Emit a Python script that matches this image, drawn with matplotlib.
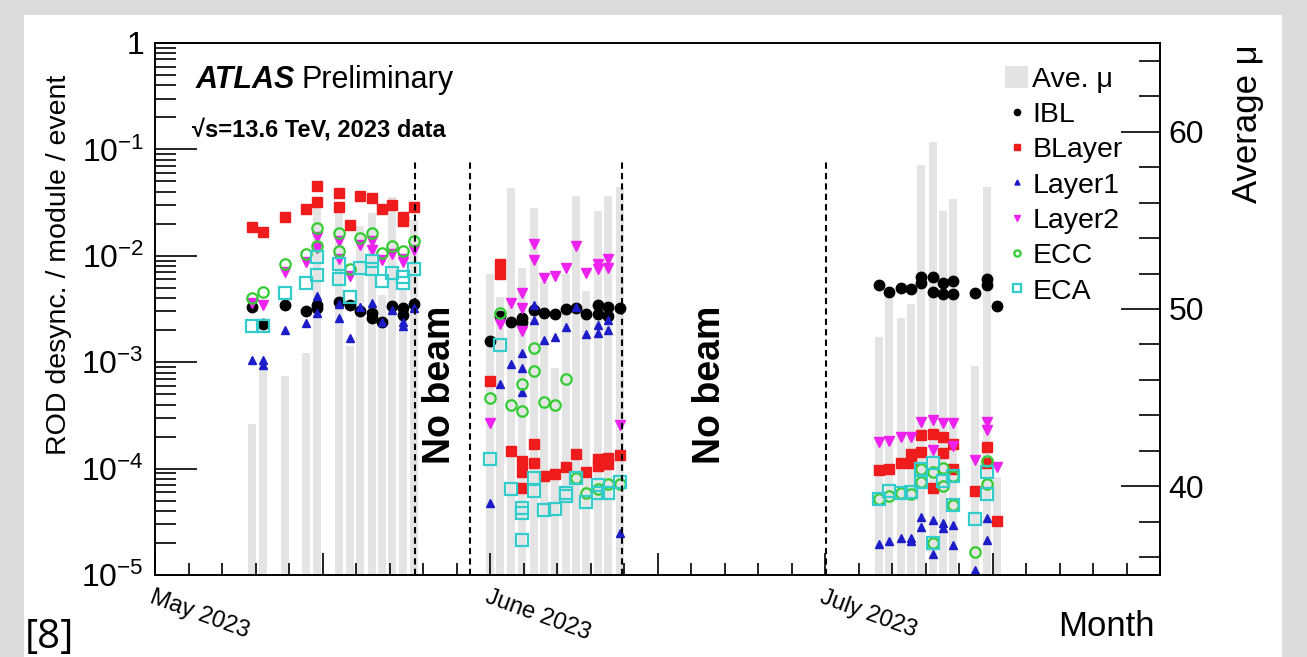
import numpy as np
import matplotlib.pyplot as plt
from matplotlib.patches import Rectangle
from matplotlib.ticker import MultipleLocator, LogLocator, NullFormatter

plt.rcParams['font.family'] = ['Liberation Sans', 'DejaVu Sans']
plt.rcParams['mathtext.fontset'] = 'custom'
plt.rcParams['mathtext.rm'] = 'Liberation Sans'
plt.rcParams['mathtext.it'] = 'Liberation Sans:italic'
plt.rcParams['mathtext.bf'] = 'Liberation Sans:bold'

# x = days after the "May 2023" tick
mu_day = [8.7, 9.7, 11.6, 13.5, 14.5, 16.5, 17.5, 18.4, 19.4, 20.3, 21.2, 22.2, 23.2,
          30.0, 30.9, 31.9, 32.9, 33.9, 34.8, 35.8, 36.8, 37.7, 38.6, 39.7, 40.6, 41.6,
          64.8, 65.7, 66.8, 67.7, 68.6, 69.7, 70.6, 71.5, 73.4, 74.5, 75.4]
mu_val = [43.5, 46.8, 46.2, 47.5, 55.7, 55.6, 47.9, 54.7, 55.4, 50.8, 56.3, 51.2, 55.0,
          52.0, 50.7, 56.8, 52.3, 55.7, 51.5, 46.7, 52.0, 56.4, 51.0, 55.5, 56.4, 56.9,
          48.4, 50.8, 49.5, 50.3, 58.1, 59.4, 55.5, 56.2, 46.8, 56.9, 40.5]

ibl = [(8.7, 0.00328), (9.7, 0.0023), (11.6, 0.00345), (13.5, 0.00303), (14.5, 0.00345),
       (14.5, 0.0032), (16.5, 0.0037), (17.5, 0.00345), (18.4, 0.0030), (19.4, 0.0029),
       (19.4, 0.0026), (20.3, 0.0024), (21.2, 0.0034), (22.2, 0.0032), (22.2, 0.0028),
       (23.2, 0.0035),
       (30.0, 0.00159), (30.9, 0.0027), (31.9, 0.0024), (32.9, 0.00259), (32.9, 0.0024),
       (33.9, 0.0031), (34.8, 0.0029), (35.8, 0.00285), (36.8, 0.00318), (37.7, 0.0032),
       (38.6, 0.00285), (39.7, 0.00345), (39.7, 0.00285), (40.6, 0.0033), (40.6, 0.00272),
       (41.6, 0.0032),
       (64.8, 0.00532), (65.7, 0.0046), (66.8, 0.00494), (67.7, 0.0049), (68.6, 0.00628),
       (68.6, 0.0056), (69.7, 0.0063), (69.7, 0.0046), (70.6, 0.0056), (70.6, 0.00437),
       (71.5, 0.0058), (71.5, 0.00437), (73.4, 0.0045), (74.5, 0.006), (74.5, 0.0053),
       (75.4, 0.00338)]

blayer = [(8.7, 0.0188), (9.7, 0.0169), (11.6, 0.0233), (13.5, 0.0274), (14.5, 0.0453),
          (14.5, 0.0323), (16.5, 0.0392), (16.5, 0.0285), (17.5, 0.0195), (18.4, 0.0365),
          (19.4, 0.0347), (20.3, 0.0274), (21.2, 0.030), (22.2, 0.0233), (22.2, 0.0214),
          (23.2, 0.029),
          (30.0, 0.00067), (30.9, 0.0084), (30.9, 0.00675), (31.9, 0.000147),
          (32.9, 0.000119), (32.9, 0.0000935), (32.9, 0.0000653), (33.9, 0.00017),
          (33.9, 0.000112), (34.8, 0.000085), (35.8, 0.0000889), (36.8, 0.000104),
          (37.7, 0.000137), (38.6, 0.0000935), (39.7, 0.000122), (39.7, 0.000106),
          (40.6, 0.000127), (40.6, 0.00011), (41.6, 0.000135),
          (64.8, 0.000097), (65.7, 0.0001), (66.8, 0.000112), (67.7, 0.000137),
          (67.7, 0.000112), (68.6, 0.000207), (68.6, 0.000142), (69.7, 0.00021),
          (69.7, 0.0000652), (70.6, 0.000198), (70.6, 0.000139), (71.5, 0.000172),
          (71.5, 0.0000985), (73.4, 0.0000615), (74.5, 0.000158), (74.5, 0.000112),
          (75.4, 0.0000325)]

layer1 = [(8.7, 0.00105), (9.7, 0.00105), (9.7, 0.00095), (11.6, 0.00201), (13.5, 0.00235),
          (14.5, 0.0042), (14.5, 0.0029), (16.5, 0.0035), (16.5, 0.0026), (17.5, 0.00168),
          (18.4, 0.0033), (19.4, 0.0036), (20.3, 0.0024), (21.2, 0.0031), (22.2, 0.0024),
          (22.2, 0.0022), (23.2, 0.0032),
          (30.0, 0.0000472), (30.9, 0.00062), (31.9, 0.00096), (32.9, 0.00123),
          (32.9, 0.00089), (32.9, 0.00053), (33.9, 0.00345), (33.9, 0.0025), (34.8, 0.00162),
          (35.8, 0.00171), (36.8, 0.00213), (37.7, 0.0033), (38.6, 0.00184), (39.7, 0.00224),
          (39.7, 0.0019), (40.6, 0.0025), (40.6, 0.002), (41.6, 0.000025),
          (64.8, 0.0000196), (65.7, 0.000021), (66.8, 0.0000225), (67.7, 0.0000225),
          (67.7, 0.000021), (68.6, 0.0000353), (68.6, 0.0000285), (69.7, 0.000033),
          (69.7, 0.0000158), (70.6, 0.0000309), (70.6, 0.0000275), (71.5, 0.0000295),
          (71.5, 0.0000192), (73.4, 0.0000112), (74.5, 0.000034), (74.5, 0.0000211)]

layer2 = [(8.7, 0.00363), (9.7, 0.00345), (11.6, 0.0071), (13.5, 0.0088), (14.5, 0.0151),
          (14.5, 0.0118), (16.5, 0.0137), (16.5, 0.0093), (17.5, 0.00646), (18.4, 0.0126),
          (19.4, 0.0137), (19.4, 0.0113), (20.3, 0.0091), (21.2, 0.0105), (22.2, 0.0093),
          (22.2, 0.0088), (23.2, 0.0113),
          (30.0, 0.000267), (30.9, 0.00229), (31.9, 0.00362), (32.9, 0.0045), (32.9, 0.0032),
          (32.9, 0.00198), (33.9, 0.0129), (33.9, 0.0091), (34.8, 0.0062), (35.8, 0.0065),
          (36.8, 0.0076), (37.7, 0.0124), (38.6, 0.0069), (39.7, 0.0084), (39.7, 0.0075),
          (40.6, 0.0093), (40.6, 0.0076), (41.6, 0.000257),
          (64.8, 0.000179), (65.7, 0.00018), (66.8, 0.0002), (67.7, 0.0002), (68.6, 0.000276),
          (69.7, 0.000289), (69.7, 0.00015), (70.6, 0.000268), (71.5, 0.000268),
          (71.5, 0.000163), (73.4, 0.000121), (74.5, 0.000276), (74.5, 0.000232),
          (75.4, 0.000104)]

ecc = [(8.7, 0.00404), (9.7, 0.0046), (11.6, 0.00838), (13.5, 0.0103), (14.5, 0.0181),
       (14.5, 0.0124), (16.5, 0.0163), (16.5, 0.0111), (17.5, 0.00757), (18.4, 0.0146),
       (19.4, 0.0165), (20.3, 0.0107), (21.2, 0.0124), (22.2, 0.0111), (23.2, 0.0138),
       (30.0, 0.000457), (30.9, 0.00288), (31.9, 0.000396), (32.9, 0.00062), (32.9, 0.00035),
       (33.9, 0.00135), (33.9, 0.00083), (34.8, 0.000425), (35.8, 0.0004), (36.8, 0.00069),
       (37.7, 0.000081), (38.6, 0.0000593), (39.7, 0.000065), (40.6, 0.000072),
       (41.6, 0.000072),
       (64.8, 0.0000514), (65.7, 0.000055), (66.8, 0.000059), (67.7, 0.000058),
       (68.6, 0.0000985), (68.6, 0.0000747), (69.7, 0.000093), (69.7, 0.0000198),
       (70.6, 0.000102), (70.6, 0.000068), (71.5, 0.0000854), (71.5, 0.0000455),
       (73.4, 0.0000165), (74.5, 0.000117), (74.5, 0.000071)]

eca = [(8.7, 0.00219), (9.7, 0.00219), (11.6, 0.0045), (13.5, 0.0055), (14.5, 0.0098),
       (14.5, 0.0066), (16.5, 0.0084), (16.5, 0.0060), (17.5, 0.00413), (18.4, 0.0076),
       (19.4, 0.009), (19.4, 0.0075), (20.3, 0.0058), (21.2, 0.0069), (22.2, 0.0063),
       (22.2, 0.0055), (23.2, 0.0075),
       (30.0, 0.000122), (30.9, 0.00145), (31.9, 0.0000638), (32.9, 0.000043),
       (32.9, 0.0000385), (32.9, 0.0000213), (33.9, 0.000081), (33.9, 0.000062),
       (34.8, 0.0000408), (35.8, 0.000042), (36.8, 0.0000593), (36.8, 0.000055),
       (37.7, 0.000081), (38.6, 0.0000489), (39.7, 0.00007), (39.7, 0.0000593),
       (40.6, 0.0000593), (41.6, 0.000075),
       (64.8, 0.0000514), (65.7, 0.0000615), (66.8, 0.000059), (67.7, 0.00006),
       (68.6, 0.0000985), (68.6, 0.0000747), (69.7, 0.000112), (69.7, 0.0000198),
       (70.6, 0.000077), (71.5, 0.0000854), (71.5, 0.0000455), (73.4, 0.0000336),
       (74.5, 0.0000925), (74.5, 0.000058)]

beam_gaps = [23.3, 28.2, 41.8, 60.1]
no_beam_day = [25.5, 49.7]
month_ticks = [0, 30, 60]
month_labels = ['May 2023', 'June 2023', 'July 2023']

fig = plt.figure(figsize=(13.07, 6.57), dpi=100, facecolor='#dcdcdc')
fig.patches.append(Rectangle((24 / 1307, 0), 1258 / 1307, 642 / 657, transform=fig.transFigure,
                             facecolor='white', edgecolor='none', zorder=-5))

ax = fig.add_axes([155 / 1307, 82 / 657, 1005 / 1307, 532 / 657])
ax2 = ax.twinx()
ax.set_zorder(ax2.get_zorder() + 1)
ax.patch.set_visible(False)
ax2.patch.set_visible(False)

# average mu bars on the right axis
bars = ax2.bar(mu_day, np.array(mu_val) - 35, bottom=35, width=0.72,
               color='#e4e4e4', label='Ave. \u03bc')
ax2.set_ylim(35, 65)
ax2.yaxis.set_major_locator(MultipleLocator(10))
ax2.yaxis.set_minor_locator(MultipleLocator(2))
ax2.tick_params(axis='y', which='major', direction='in', length=28, width=1.2,
                labelsize=23, pad=6)
ax2.tick_params(axis='y', which='minor', direction='in', length=15, width=1.2)
ax2.set_ylabel('Average \u03bc', fontsize=25, loc='top')
ax2.yaxis.set_label_coords(1.071, 0.997)
for s in ax2.spines.values():
    s.set_linewidth(1.2)

styles = [
    (ibl, 'IBL', dict(marker='o', color='black', ms=7.5)),
    (blayer, 'BLayer', dict(marker='s', color='#ee1c1c', ms=7)),
    (layer1, 'Layer1', dict(marker='^', color='#1c1cc8', ms=6)),
    (layer2, 'Layer2', dict(marker='v', color='#ee22ee', ms=7.5)),
    (ecc, 'ECC', dict(marker='o', mfc='none', mec='#33cc33', ms=7.5, mew=1.6)),
    (eca, 'ECA', dict(marker='s', mfc='none', mec='#33cccc', ms=8.5, mew=1.6)),
]
handles = [bars]
for pts, name, st in styles:
    xs = [p[0] for p in pts]
    ys = [p[1] for p in pts]
    h, = ax.plot(xs, ys, ls='none', label=name, **st)
    handles.append(h)

ax.set_yscale('log')
ax.set_ylim(1e-5, 1)
ax.set_xlim(0, 90)
ax.set_yticks([1e-5, 1e-4, 1e-3, 1e-2, 1e-1, 1])
ax.set_yticklabels([r'$10^{-5}$', r'$10^{-4}$', r'$10^{-3}$', r'$10^{-2}$', r'$10^{-1}$', '1'])
ax.yaxis.set_minor_locator(LogLocator(base=10, subs=np.arange(2, 10), numticks=20))
ax.yaxis.set_minor_formatter(NullFormatter())
ax.tick_params(axis='y', which='major', direction='in', length=30, width=1.2,
               labelsize=23, right=False, pad=8)
ax.tick_params(axis='y', which='minor', direction='in', length=15, width=1.2, right=False)

xt = list(range(0, 91, 15))
ax.set_xticks(xt)
ax.set_xticklabels([month_labels[month_ticks.index(t)] if t in month_ticks else '' for t in xt],
                   rotation=-20, ha='left', va='top', rotation_mode='anchor', fontsize=17)
ax.xaxis.set_minor_locator(MultipleLocator(3))
ax.tick_params(axis='x', which='major', direction='in', length=16, width=1.2, pad=8)
ax.tick_params(axis='x', which='minor', direction='in', length=9, width=1.2)
for s in ax.spines.values():
    s.set_linewidth(1.2)

ax.set_ylabel('ROD desync. / module / event', fontsize=20.5, loc='top')
ax.yaxis.set_label_coords(-0.083, 0.94)
ax.set_xlabel('Month', fontsize=25, loc='right')
ax.xaxis.set_label_coords(0.995, -0.065)

ax.vlines(beam_gaps, 1e-5, 0.08, colors='black', linestyles=(0, (3, 2)), lw=1.5)
for d in no_beam_day:
    ax.text(d, 6.1e-4, 'No beam', rotation=90, fontweight='bold', fontsize=27,
            ha='center', va='center')

ax.text(0.04, 0.915, 'ATLAS', transform=ax.transAxes, fontsize=22, fontweight='bold',
        fontstyle='italic', va='baseline')
ax.text(0.146, 0.915, 'Preliminary', transform=ax.transAxes, fontsize=22, va='baseline')
ax.text(0.037, 0.825, '\u221as=13.6 TeV, 2023 data', transform=ax.transAxes,
        fontsize=17, fontweight='bold', va='baseline')

ax.legend(handles, [h.get_label() for h in handles], loc='upper left',
          bbox_to_anchor=(0.846, 0.957), frameon=False, fontsize=20.5, handlelength=0.8,
          handleheight=0.8, handletextpad=0.15, labelspacing=0.3, borderpad=0,
          borderaxespad=0, markerscale=0.6)

fig.text(25 / 1307, 9 / 657, '[8]', fontsize=29, family='Open Sans', va='baseline')

fig.savefig('out.png', dpi=100, facecolor=fig.get_facecolor())
